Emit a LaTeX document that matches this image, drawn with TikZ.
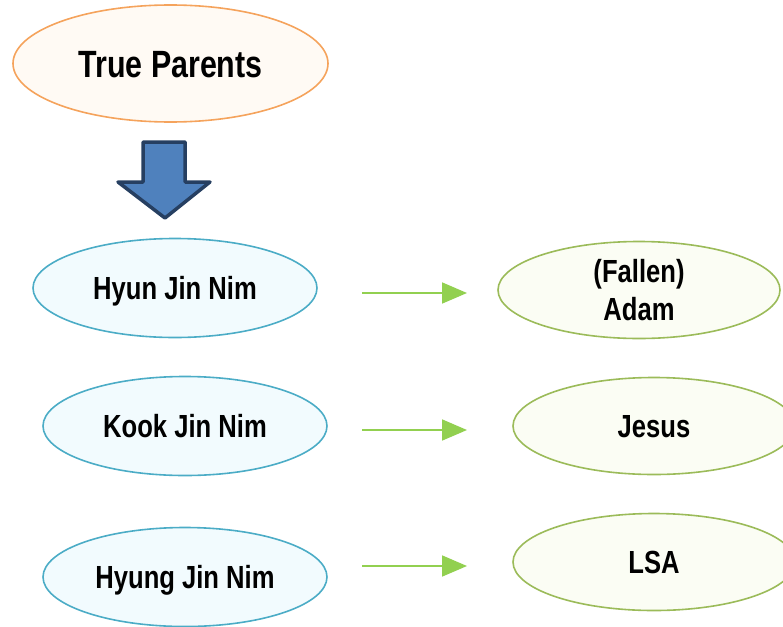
\documentclass[tikz,border=0pt]{standalone}
\usepackage{fontspec}
\setmainfont[FakeStretch=0.8]{Liberation Sans}
\usetikzlibrary{shapes.geometric,arrows.meta}
\definecolor{tpline}{HTML}{F5A35C}
\definecolor{tpfill}{HTML}{FFFAF4}
\definecolor{sonline}{HTML}{4BACC6}
\definecolor{sonfill}{HTML}{F2FBFE}
\definecolor{roleline}{HTML}{9BBB59}
\definecolor{rolefill}{HTML}{FBFDF4}
\definecolor{flowgreen}{HTML}{92D050}
\definecolor{blockfill}{HTML}{4F81BD}
\definecolor{blockline}{HTML}{263F61}
\begin{document}
\begin{tikzpicture}[x=1pt,y=-1pt,
  son/.style={ellipse,draw=sonline,fill=sonfill,line width=1.6pt,minimum width=284pt,minimum height=99pt,inner sep=0pt,text height=23pt,text depth=0pt,font=\bfseries\fontsize{32}{38}\selectfont},
  role/.style={ellipse,draw=roleline,fill=rolefill,line width=1.6pt,minimum width=282pt,minimum height=97pt,inner sep=0pt,align=center,font=\bfseries\fontsize{32}{38}\selectfont},
  caps/.style={text height=23pt,text depth=0pt},
  flow/.style={draw=flowgreen,line width=1.8pt,-{Triangle[length=25pt,width=21pt]}}]
\useasboundingbox (0,0) rectangle (783,626);
% top
\node[ellipse,draw=tpline,fill=tpfill,line width=1.6pt,minimum width=315pt,minimum height=117pt,inner sep=0pt,text height=28pt,text depth=0pt,font=\bfseries\fontsize{38}{44}\selectfont] (tp) at (170.5,63.5) {True Parents};
\draw[fill=blockfill,draw=blockline,line width=3.5pt,line join=round] (143,142) -- (185,142) -- (185,182) -- (210,182) -- (165,218) -- (118,182) -- (143,182) -- cycle;
% sons
\node[son] (hyun) at (175,288) {Hyun Jin Nim};
\node[son] (kook) at (185,426) {Kook Jin Nim};
\node[son] (hyung) at (185,577) {Hyung Jin Nim};
% roles
\node[role] (adam) at (639,290) {(Fallen)\\Adam};
\node[role,caps] (jesus) at (654,426) {Jesus};
\node[role,caps] (lsa) at (654,562) {LSA};
% arrows
\coordinate (s1) at (362,293);
\coordinate (e1) at (467,293);
\coordinate (s2) at (362,430);
\coordinate (e2) at (467,430);
\coordinate (s3) at (362,566);
\coordinate (e3) at (467,566);
\draw[flow] (s1) -- (e1);
\draw[flow] (s2) -- (e2);
\draw[flow] (s3) -- (e3);
\end{tikzpicture}
\end{document}
